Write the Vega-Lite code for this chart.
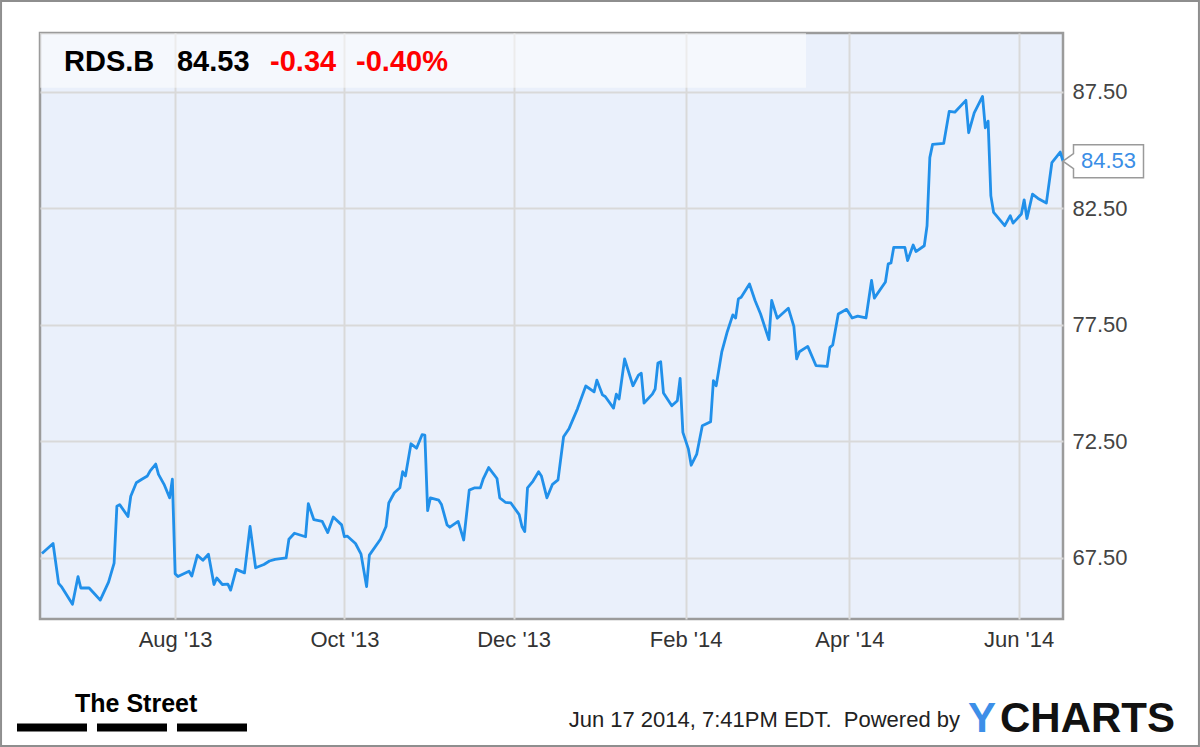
{
  "$schema": "https://vega.github.io/schema/vega-lite/v6.json",
  "width": 1023,
  "height": 586,
  "autosize": {"type": "none"},
  "padding": {"left": 40, "top": 33, "right": 137, "bottom": 128},
  "background": "white",
  "config": {
    "font": "Liberation Sans",
    "view": {"fill": "#eaf0fb", "stroke": "#9b9b9b", "strokeWidth": 2.5},
    "axis": {"grid": true, "gridColor": "#d9d9d9", "gridWidth": 2, "ticks": false, "domain": false, "labelFont": "Liberation Sans", "labelFontSize": 22, "labelColor": "#333333", "title": null}
  },
  "datasets": {
    "prices": [
      {"date": "2013-06-14", "price": 67.69},
      {"date": "2013-06-18", "price": 68.12},
      {"date": "2013-06-20", "price": 66.41},
      {"date": "2013-06-21", "price": 66.27},
      {"date": "2013-06-25", "price": 65.51},
      {"date": "2013-06-27", "price": 66.70},
      {"date": "2013-06-28", "price": 66.21},
      {"date": "2013-07-01", "price": 66.21},
      {"date": "2013-07-03", "price": 65.95},
      {"date": "2013-07-05", "price": 65.69},
      {"date": "2013-07-08", "price": 66.46},
      {"date": "2013-07-10", "price": 67.28},
      {"date": "2013-07-11", "price": 69.72},
      {"date": "2013-07-12", "price": 69.79},
      {"date": "2013-07-15", "price": 69.28},
      {"date": "2013-07-16", "price": 70.15},
      {"date": "2013-07-18", "price": 70.73},
      {"date": "2013-07-20", "price": 70.88},
      {"date": "2013-07-22", "price": 71.02},
      {"date": "2013-07-23", "price": 71.24},
      {"date": "2013-07-25", "price": 71.53},
      {"date": "2013-07-26", "price": 71.09},
      {"date": "2013-07-28", "price": 70.66},
      {"date": "2013-07-30", "price": 70.08},
      {"date": "2013-07-31", "price": 70.88},
      {"date": "2013-08-01", "price": 66.82},
      {"date": "2013-08-02", "price": 66.70},
      {"date": "2013-08-06", "price": 66.93},
      {"date": "2013-08-07", "price": 66.72},
      {"date": "2013-08-09", "price": 67.62},
      {"date": "2013-08-11", "price": 67.40},
      {"date": "2013-08-13", "price": 67.66},
      {"date": "2013-08-15", "price": 66.36},
      {"date": "2013-08-16", "price": 66.64},
      {"date": "2013-08-18", "price": 66.36},
      {"date": "2013-08-20", "price": 66.38},
      {"date": "2013-08-21", "price": 66.12},
      {"date": "2013-08-23", "price": 67.01},
      {"date": "2013-08-26", "price": 66.86},
      {"date": "2013-08-28", "price": 68.85},
      {"date": "2013-08-30", "price": 67.08},
      {"date": "2013-09-02", "price": 67.22},
      {"date": "2013-09-04", "price": 67.37},
      {"date": "2013-09-06", "price": 67.44},
      {"date": "2013-09-10", "price": 67.50},
      {"date": "2013-09-11", "price": 68.30},
      {"date": "2013-09-13", "price": 68.56},
      {"date": "2013-09-17", "price": 68.41},
      {"date": "2013-09-18", "price": 69.83},
      {"date": "2013-09-20", "price": 69.14},
      {"date": "2013-09-23", "price": 69.07},
      {"date": "2013-09-25", "price": 68.59},
      {"date": "2013-09-27", "price": 69.26},
      {"date": "2013-09-30", "price": 68.92},
      {"date": "2013-10-01", "price": 68.41},
      {"date": "2013-10-02", "price": 68.44},
      {"date": "2013-10-05", "price": 68.12},
      {"date": "2013-10-07", "price": 67.66},
      {"date": "2013-10-09", "price": 66.27},
      {"date": "2013-10-10", "price": 67.62},
      {"date": "2013-10-14", "price": 68.30},
      {"date": "2013-10-16", "price": 68.85},
      {"date": "2013-10-17", "price": 69.86},
      {"date": "2013-10-19", "price": 70.30},
      {"date": "2013-10-21", "price": 70.51},
      {"date": "2013-10-22", "price": 71.20},
      {"date": "2013-10-23", "price": 71.02},
      {"date": "2013-10-25", "price": 72.40},
      {"date": "2013-10-27", "price": 72.21},
      {"date": "2013-10-29", "price": 72.79},
      {"date": "2013-10-30", "price": 72.77},
      {"date": "2013-10-31", "price": 69.53},
      {"date": "2013-11-01", "price": 70.08},
      {"date": "2013-11-04", "price": 69.98},
      {"date": "2013-11-05", "price": 69.79},
      {"date": "2013-11-07", "price": 68.92},
      {"date": "2013-11-08", "price": 68.82},
      {"date": "2013-11-11", "price": 69.07},
      {"date": "2013-11-13", "price": 68.27},
      {"date": "2013-11-15", "price": 70.41},
      {"date": "2013-11-17", "price": 70.51},
      {"date": "2013-11-19", "price": 70.51},
      {"date": "2013-11-20", "price": 70.88},
      {"date": "2013-11-22", "price": 71.38},
      {"date": "2013-11-25", "price": 70.91},
      {"date": "2013-11-26", "price": 70.08},
      {"date": "2013-11-28", "price": 69.89},
      {"date": "2013-11-30", "price": 69.86},
      {"date": "2013-12-03", "price": 69.36},
      {"date": "2013-12-04", "price": 68.85},
      {"date": "2013-12-05", "price": 68.63},
      {"date": "2013-12-06", "price": 70.51},
      {"date": "2013-12-08", "price": 70.80},
      {"date": "2013-12-10", "price": 71.20},
      {"date": "2013-12-11", "price": 71.02},
      {"date": "2013-12-13", "price": 70.08},
      {"date": "2013-12-15", "price": 70.66},
      {"date": "2013-12-17", "price": 70.85},
      {"date": "2013-12-19", "price": 72.70},
      {"date": "2013-12-21", "price": 73.06},
      {"date": "2013-12-24", "price": 73.90},
      {"date": "2013-12-27", "price": 74.88},
      {"date": "2013-12-30", "price": 74.63},
      {"date": "2013-12-31", "price": 75.13},
      {"date": "2014-01-02", "price": 74.50},
      {"date": "2014-01-03", "price": 74.43},
      {"date": "2014-01-06", "price": 73.93},
      {"date": "2014-01-07", "price": 74.53},
      {"date": "2014-01-08", "price": 74.32},
      {"date": "2014-01-10", "price": 76.04},
      {"date": "2014-01-13", "price": 74.89},
      {"date": "2014-01-15", "price": 75.35},
      {"date": "2014-01-16", "price": 75.43},
      {"date": "2014-01-17", "price": 74.15},
      {"date": "2014-01-20", "price": 74.53},
      {"date": "2014-01-21", "price": 74.75},
      {"date": "2014-01-22", "price": 75.87},
      {"date": "2014-01-23", "price": 75.92},
      {"date": "2014-01-24", "price": 74.58},
      {"date": "2014-01-27", "price": 74.03},
      {"date": "2014-01-29", "price": 74.25},
      {"date": "2014-01-30", "price": 75.21},
      {"date": "2014-01-31", "price": 72.89},
      {"date": "2014-02-02", "price": 72.17},
      {"date": "2014-02-03", "price": 71.48},
      {"date": "2014-02-05", "price": 71.96},
      {"date": "2014-02-07", "price": 73.17},
      {"date": "2014-02-10", "price": 73.35},
      {"date": "2014-02-11", "price": 75.11},
      {"date": "2014-02-12", "price": 74.89},
      {"date": "2014-02-14", "price": 76.33},
      {"date": "2014-02-16", "price": 77.21},
      {"date": "2014-02-18", "price": 77.93},
      {"date": "2014-02-19", "price": 77.80},
      {"date": "2014-02-20", "price": 78.62},
      {"date": "2014-02-21", "price": 78.69},
      {"date": "2014-02-24", "price": 79.26},
      {"date": "2014-02-26", "price": 78.55},
      {"date": "2014-02-28", "price": 77.97},
      {"date": "2014-03-03", "price": 76.87},
      {"date": "2014-03-04", "price": 78.55},
      {"date": "2014-03-06", "price": 77.79},
      {"date": "2014-03-10", "price": 78.22},
      {"date": "2014-03-12", "price": 77.44},
      {"date": "2014-03-13", "price": 76.04},
      {"date": "2014-03-14", "price": 76.35},
      {"date": "2014-03-17", "price": 76.58},
      {"date": "2014-03-20", "price": 75.75},
      {"date": "2014-03-24", "price": 75.72},
      {"date": "2014-03-25", "price": 76.54},
      {"date": "2014-03-26", "price": 76.64},
      {"date": "2014-03-28", "price": 77.97},
      {"date": "2014-03-31", "price": 78.17},
      {"date": "2014-04-02", "price": 77.80},
      {"date": "2014-04-04", "price": 77.88},
      {"date": "2014-04-07", "price": 77.80},
      {"date": "2014-04-09", "price": 79.41},
      {"date": "2014-04-10", "price": 78.65},
      {"date": "2014-04-14", "price": 79.34},
      {"date": "2014-04-15", "price": 80.12},
      {"date": "2014-04-16", "price": 80.16},
      {"date": "2014-04-17", "price": 80.83},
      {"date": "2014-04-21", "price": 80.83},
      {"date": "2014-04-22", "price": 80.26},
      {"date": "2014-04-24", "price": 80.93},
      {"date": "2014-04-25", "price": 80.65},
      {"date": "2014-04-28", "price": 80.90},
      {"date": "2014-04-29", "price": 81.76},
      {"date": "2014-04-30", "price": 84.68},
      {"date": "2014-05-01", "price": 85.25},
      {"date": "2014-05-05", "price": 85.29},
      {"date": "2014-05-07", "price": 86.67},
      {"date": "2014-05-09", "price": 86.63},
      {"date": "2014-05-13", "price": 87.14},
      {"date": "2014-05-14", "price": 85.75},
      {"date": "2014-05-16", "price": 86.60},
      {"date": "2014-05-19", "price": 87.31},
      {"date": "2014-05-20", "price": 85.96},
      {"date": "2014-05-21", "price": 86.25},
      {"date": "2014-05-22", "price": 83.04},
      {"date": "2014-05-23", "price": 82.33},
      {"date": "2014-05-27", "price": 81.76},
      {"date": "2014-05-29", "price": 82.19},
      {"date": "2014-05-30", "price": 81.87},
      {"date": "2014-06-02", "price": 82.26},
      {"date": "2014-06-03", "price": 82.87},
      {"date": "2014-06-04", "price": 82.07},
      {"date": "2014-06-06", "price": 83.11},
      {"date": "2014-06-08", "price": 82.93},
      {"date": "2014-06-11", "price": 82.73},
      {"date": "2014-06-13", "price": 84.47},
      {"date": "2014-06-16", "price": 84.92},
      {"date": "2014-06-17", "price": 84.53}
    ]
  },
  "layer": [
    {
      "data": {"name": "prices"},
      "mark": {"type": "line", "color": "#2190ea", "strokeWidth": 2.8, "strokeJoin": "round"},
      "encoding": {
        "x": {
          "field": "date", "type": "temporal",
          "scale": {"domain": [{"year": 2013, "month": 6, "date": 13, "hours": 7}, {"year": 2014, "month": 6, "date": 17}]},
          "axis": {
            "values": [
              {"year": 2013, "month": 8, "date": 1},
              {"year": 2013, "month": 10, "date": 1},
              {"year": 2013, "month": 12, "date": 1},
              {"year": 2014, "month": 2, "date": 1},
              {"year": 2014, "month": 4, "date": 1},
              {"year": 2014, "month": 6, "date": 1}
            ],
            "format": "%b '%y", "labelPadding": 10, "title": null, "labelColor": "#333333"
          }
        },
        "y": {
          "field": "price", "type": "quantitative",
          "scale": {"domain": [64.88, 90.03], "nice": false, "zero": false},
          "axis": {"orient": "right", "values": [67.5, 72.5, 77.5, 82.5, 87.5], "format": ".2f", "labelPadding": 9, "labelColor": "#444444", "title": null}
        }
      }
    },
    {
      "data": {"values": [{}]},
      "mark": {"type": "rect", "fill": "white", "opacity": 0.5},
      "encoding": {
        "x": {"datum": {"year": 2013, "month": 6, "date": 13, "hours": 7}, "type": "temporal"},
        "x2": {"datum": {"year": 2014, "month": 3, "date": 16, "hours": 9}},
        "y": {"datum": 90.03, "type": "quantitative"},
        "y2": {"datum": 87.68}
      }
    },
    {
      "data": {"name": "prices"},
      "transform": [
        {"window": [{"op": "row_number", "as": "rn"}], "sort": [{"field": "date", "order": "descending"}]},
        {"filter": "datum.rn == 1"}
      ],
      "layer": [
        {
          "mark": {"type": "point", "shape": "M0,0L10.5,-7.5L10.5,-16.5L80.5,-16.5L80.5,16.5L10.5,16.5L10.5,7.5Z", "size": 4, "filled": true, "fill": "white", "stroke": "#9a9a9a", "strokeWidth": 1.5, "opacity": 1},
          "encoding": {
            "x": {"field": "date", "type": "temporal"},
            "y": {"field": "price", "type": "quantitative"}
          }
        },
        {
          "mark": {"type": "text", "dx": 45.5, "align": "center", "baseline": "middle", "fontSize": 22, "color": "#3a8ee6"},
          "encoding": {
            "x": {"field": "date", "type": "temporal"},
            "y": {"field": "price", "type": "quantitative"},
            "text": {"field": "price", "type": "quantitative", "format": ".2f"}
          }
        }
      ]
    },
    {
      "data": {"values": [{"label": "RDS.B"}]},
      "mark": {"type": "text", "align": "left", "baseline": "alphabetic", "fontSize": 29, "fontWeight": "bold", "color": "#000000"},
      "encoding": {
        "x": {"datum": {"year": 2013, "month": 6, "date": 21, "hours": 23}, "type": "temporal"},
        "y": {"datum": 88.41, "type": "quantitative"},
        "text": {"field": "label"}
      }
    },
    {
      "data": {"values": [{"label": "84.53"}]},
      "mark": {"type": "text", "align": "left", "baseline": "alphabetic", "fontSize": 29, "fontWeight": "bold", "color": "#000000"},
      "encoding": {
        "x": {"datum": {"year": 2013, "month": 8, "date": 1, "hours": 16}, "type": "temporal"},
        "y": {"datum": 88.41, "type": "quantitative"},
        "text": {"field": "label"}
      }
    },
    {
      "data": {"values": [{"label": "-0.34"}]},
      "mark": {"type": "text", "align": "left", "baseline": "alphabetic", "fontSize": 29, "fontWeight": "bold", "color": "#ff0000"},
      "encoding": {
        "x": {"datum": {"year": 2013, "month": 9, "date": 4, "hours": 5}, "type": "temporal"},
        "y": {"datum": 88.41, "type": "quantitative"},
        "text": {"field": "label"}
      }
    },
    {
      "data": {"values": [{"label": "-0.40%"}]},
      "mark": {"type": "text", "align": "left", "baseline": "alphabetic", "fontSize": 29, "fontWeight": "bold", "color": "#ff0000"},
      "encoding": {
        "x": {"datum": {"year": 2013, "month": 10, "date": 5, "hours": 5}, "type": "temporal"},
        "y": {"datum": 88.41, "type": "quantitative"},
        "text": {"field": "label"}
      }
    },
    {
      "data": {"values": [{"label": "The Street"}]},
      "mark": {"type": "text", "align": "left", "baseline": "alphabetic", "fontSize": 25, "fontWeight": "bold", "font": "Liberation Sans Narrow, Liberation Sans", "color": "#000000"},
      "encoding": {
        "x": {"datum": {"year": 2013, "month": 6, "date": 25, "hours": 22}, "type": "temporal"},
        "y": {"datum": 60.89, "type": "quantitative"},
        "text": {"field": "label"}
      }
    },
    {
      "data": {"values": [{}]},
      "mark": {"type": "rule", "color": "#000000", "strokeWidth": 8, "strokeDash": [70, 10], "strokeCap": "butt"},
      "encoding": {
        "x": {"datum": {"year": 2013, "month": 6, "date": 5}, "type": "temporal"},
        "x2": {"datum": {"year": 2013, "month": 8, "date": 26, "hours": 22}},
        "y": {"datum": 60.22, "type": "quantitative"}
      }
    },
    {
      "data": {"values": [{"label": "Jun 17 2014, 7:41PM EDT.\u00a0 Powered by"}]},
      "mark": {"type": "text", "align": "right", "baseline": "alphabetic", "fontSize": 22, "color": "#222222"},
      "encoding": {
        "x": {"datum": {"year": 2014, "month": 5, "date": 10, "hours": 21}, "type": "temporal"},
        "y": {"datum": 60.245, "type": "quantitative"},
        "text": {"field": "label"}
      }
    },
    {
      "data": {"values": [{"label": "Y"}]},
      "mark": {"type": "text", "align": "left", "baseline": "alphabetic", "fontSize": 42, "fontWeight": "bold", "color": "#3d8fe8"},
      "encoding": {
        "x": {"datum": {"year": 2014, "month": 5, "date": 13, "hours": 18}, "type": "temporal"},
        "y": {"datum": 60.03, "type": "quantitative"},
        "text": {"field": "label"}
      }
    },
    {
      "data": {"values": [{"label": "CHARTS"}]},
      "mark": {"type": "text", "align": "left", "baseline": "alphabetic", "fontSize": 42, "fontWeight": "bold", "color": "#111111"},
      "encoding": {
        "x": {"datum": {"year": 2014, "month": 5, "date": 25, "hours": 7}, "type": "temporal"},
        "y": {"datum": 60.03, "type": "quantitative"},
        "text": {"field": "label"}
      }
    },
    {
      "data": {"values": [{}]},
      "mark": {"type": "rect", "filled": false, "stroke": "#8e8e8e", "strokeWidth": 2},
      "encoding": {
        "x": {"datum": {"year": 2013, "month": 5, "date": 30, "hours": 6}, "type": "temporal"},
        "x2": {"datum": {"year": 2014, "month": 8, "date": 5}},
        "y": {"datum": 91.40, "type": "quantitative"},
        "y2": {"datum": 59.43}
      }
    }
  ]
}
